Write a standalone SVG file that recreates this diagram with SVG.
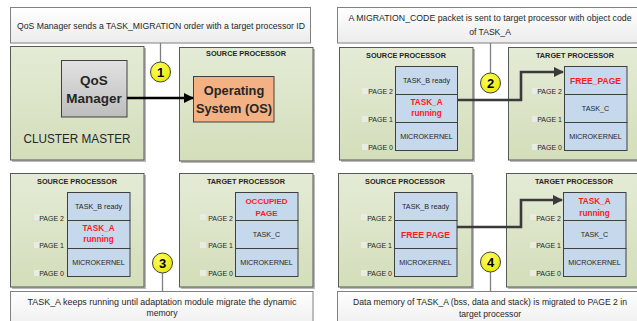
<svg xmlns="http://www.w3.org/2000/svg" width="637" height="321" viewBox="0 0 637 321">
<defs>
<linearGradient id="gPanel" x1="0" y1="0" x2="0" y2="1"><stop offset="0" stop-color="#E4EBD6"/><stop offset="1" stop-color="#D3DEBA"/></linearGradient>
<linearGradient id="gCall" x1="0" y1="0" x2="0" y2="1"><stop offset="0" stop-color="#FFFFFF"/><stop offset="1" stop-color="#ECECEC"/></linearGradient>
<linearGradient id="gQos" x1="0" y1="0" x2="0" y2="1"><stop offset="0" stop-color="#E2E2E2"/><stop offset="1" stop-color="#BDBDBD"/></linearGradient>
<radialGradient id="gCirc" cx="0.4" cy="0.35" r="0.7"><stop offset="0" stop-color="#FFFF66"/><stop offset="1" stop-color="#E8E800"/></radialGradient>
<marker id="ah" viewBox="0 0 10 10" refX="9" refY="5" markerWidth="4" markerHeight="4" orient="auto" markerUnits="strokeWidth"><path d="M0,0 L10,5 L0,10 z" fill="context-stroke"/></marker>
<marker id="ahK" viewBox="0 0 10 10" refX="9" refY="5" markerWidth="4" markerHeight="4" orient="auto" markerUnits="strokeWidth"><path d="M0,0 L10,5 L0,10 z" fill="#000"/></marker>
<marker id="ahG" viewBox="0 0 10 10" refX="9" refY="5" markerWidth="4" markerHeight="4" orient="auto" markerUnits="strokeWidth"><path d="M0,0 L10,5 L0,10 z" fill="#3A3A3A"/></marker>
</defs>
<style>
text{font-family:"Liberation Sans",Arial,sans-serif;fill:#262626}
.panel{fill:url(#gPanel);stroke:#595959;stroke-width:1}
.shadow{fill:#8C8C8C;opacity:0.6}
.call{fill:url(#gCall);stroke:#808080;stroke-width:1}
.hd{font-weight:bold;font-size:7.3px;text-anchor:middle}
.ct{font-size:8.6px;text-anchor:middle}
.cell{fill:#C6D8EC;stroke:#404040;stroke-width:1}
.st{font-size:7.2px;text-anchor:middle}
.red{font-weight:bold;fill:#FF1A1A;text-anchor:middle}
.pg{font-size:7px;text-anchor:end}
.tick{fill:#E9ECE2}
.circ{fill:url(#gCirc);stroke:#404040;stroke-width:1}
.num{font-weight:bold;font-size:13px;text-anchor:middle;fill:#000}
.stem{stroke:#808080;stroke-width:1.3;fill:none}
.arr{stroke:#3A3A3A;stroke-width:2.6;fill:none;marker-end:url(#ahG)}
</style>
<rect width="637" height="321" fill="#FFFFFF"/>

<!-- Panel 1 -->
<g id="callout1">
<rect class="call" x="10.5" y="7.5" width="300" height="35.5"/>
<text class="ct" x="161" y="29" textLength="288" lengthAdjust="spacingAndGlyphs">QoS Manager sends a TASK_MIGRATION order with a target processor ID</text>
</g>
<g id="cluster-master">
<rect class="shadow" x="12" y="48" width="134" height="114"/>
<rect class="panel" x="10.5" y="46.5" width="133.5" height="113.5"/>
<text x="77" y="143" font-size="12" text-anchor="middle" textLength="107" lengthAdjust="spacingAndGlyphs">CLUSTER MASTER</text>
</g>
<g id="qos-manager">
<rect x="61.5" y="60.5" width="65.5" height="56.5" fill="url(#gQos)" stroke="#404040"/>
<text x="94" y="85" font-size="13.5" font-weight="bold" text-anchor="middle">QoS</text>
<text x="94" y="103" font-size="13.5" font-weight="bold" text-anchor="middle">Manager</text>
</g>
<g id="source1">
<rect class="shadow" x="181" y="49" width="134" height="114"/>
<rect class="panel" x="179.5" y="47.5" width="133.5" height="113.5"/>
<text class="hd" x="246" y="56">SOURCE PROCESSOR</text>
</g>
<g id="os">
<rect x="193.5" y="76.5" width="80.5" height="45.5" fill="#F4B183" stroke="#404040"/>
<text x="234" y="95" font-size="12.8" font-weight="bold" text-anchor="middle">Operating</text>
<text x="234" y="113" font-size="12.8" font-weight="bold" text-anchor="middle">System (OS)</text>
</g>

<!-- Panel 2 -->
<g id="callout2">
<rect class="call" x="337.5" y="7.5" width="305" height="35.5"/>
<text class="ct" x="490" y="21" textLength="283" lengthAdjust="spacingAndGlyphs">A MIGRATION_CODE packet is sent to target processor with object code</text>
<text class="ct" x="490" y="35">of TASK_A</text>
</g>
<g id="source2">
<rect class="shadow" x="341" y="49" width="134" height="113"/>
<rect class="panel" x="339.5" y="47.5" width="133.5" height="112.5"/>
<text class="hd" x="406" y="58">SOURCE PROCESSOR</text>
<rect class="tick" x="362" y="88" width="6" height="6"/><rect class="tick" x="362" y="116" width="6" height="6"/><rect class="tick" x="362" y="144" width="6" height="6"/>
<text class="pg" x="393" y="94">PAGE 2</text><text class="pg" x="393" y="122">PAGE 1</text><text class="pg" x="393" y="150">PAGE 0</text>
<rect class="cell" x="395.5" y="66.5" width="62" height="28"/>
<rect class="cell" x="395.5" y="94.5" width="62" height="28"/>
<rect class="cell" x="395.5" y="122.5" width="62" height="28"/>
<text class="st" x="426.5" y="83">TASK_B ready</text>
<text class="red" x="426.5" y="105" font-size="8.2">TASK_A</text>
<text class="red" x="426.5" y="116" font-size="8.2">running</text>
<text class="st" x="426.5" y="139">MICROKERNEL</text>
</g>
<g id="target2">
<rect class="shadow" x="510" y="49" width="134" height="113"/>
<rect class="panel" x="508.5" y="47.5" width="133.5" height="112.5"/>
<text class="hd" x="575" y="58">TARGET PROCESSOR</text>
<rect class="tick" x="532" y="88" width="6" height="6"/><rect class="tick" x="532" y="116" width="6" height="6"/><rect class="tick" x="532" y="144" width="6" height="6"/>
<text class="pg" x="562" y="94">PAGE 2</text><text class="pg" x="562" y="122">PAGE 1</text><text class="pg" x="562" y="150">PAGE 0</text>
<rect class="cell" x="564.5" y="66.5" width="62.5" height="28"/>
<rect class="cell" x="564.5" y="94.5" width="62.5" height="28"/>
<rect class="cell" x="564.5" y="122.5" width="62.5" height="28"/>
<text class="red" x="595.5" y="84" font-size="8.5">FREE_PAGE</text>
<text class="st" x="595.5" y="111">TASK_C</text>
<text class="st" x="595.5" y="139">MICROKERNEL</text>
</g>

<!-- Panel 3 -->
<g id="source3">
<rect class="shadow" x="12" y="175" width="134" height="114"/>
<rect class="panel" x="10.5" y="173.5" width="133.5" height="113.5"/>
<text class="hd" x="77" y="184">SOURCE PROCESSOR</text>
<rect class="tick" x="34" y="214" width="6" height="6"/><rect class="tick" x="34" y="242" width="6" height="6"/><rect class="tick" x="34" y="270" width="6" height="6"/>
<text class="pg" x="64" y="221">PAGE 2</text><text class="pg" x="64" y="248">PAGE 1</text><text class="pg" x="64" y="276">PAGE 0</text>
<rect class="cell" x="67.5" y="192.5" width="62.5" height="28"/>
<rect class="cell" x="67.5" y="220.5" width="62.5" height="28"/>
<rect class="cell" x="67.5" y="248.5" width="62.5" height="28"/>
<text class="st" x="98.5" y="209">TASK_B ready</text>
<text class="red" x="98.5" y="231" font-size="8.2">TASK_A</text>
<text class="red" x="98.5" y="242" font-size="8.2">running</text>
<text class="st" x="98.5" y="265">MICROKERNEL</text>
</g>
<g id="target3">
<rect class="shadow" x="181" y="175" width="134" height="114"/>
<rect class="panel" x="179.5" y="173.5" width="133.5" height="113.5"/>
<text class="hd" x="246" y="184">TARGET PROCESSOR</text>
<rect class="tick" x="200" y="214" width="6" height="6"/><rect class="tick" x="200" y="242" width="6" height="6"/><rect class="tick" x="200" y="270" width="6" height="6"/>
<text class="pg" x="233" y="221">PAGE 2</text><text class="pg" x="233" y="248">PAGE 1</text><text class="pg" x="233" y="276">PAGE 0</text>
<rect class="cell" x="235.5" y="192.5" width="62.5" height="28"/>
<rect class="cell" x="235.5" y="220.5" width="62.5" height="28"/>
<rect class="cell" x="235.5" y="248.5" width="62.5" height="28"/>
<text class="red" x="266.5" y="204" font-size="8">OCCUPIED</text>
<text class="red" x="266.5" y="215.5" font-size="8">PAGE</text>
<text class="st" x="266.5" y="237">TASK_C</text>
<text class="st" x="266.5" y="265">MICROKERNEL</text>
</g>
<g id="callout3">
<rect class="call" x="10.5" y="291.5" width="302.5" height="40"/>
<text class="ct" x="162" y="305" textLength="269" lengthAdjust="spacingAndGlyphs">TASK_A keeps running until adaptation module migrate the dynamic</text>
<text class="ct" x="162" y="316">memory</text>
</g>

<!-- Panel 4 -->
<g id="source4">
<rect class="shadow" x="340" y="175" width="134" height="114"/>
<rect class="panel" x="338.5" y="173.5" width="133.5" height="113.5"/>
<text class="hd" x="405" y="184">SOURCE PROCESSOR</text>
<rect class="tick" x="361" y="214" width="6" height="6"/><rect class="tick" x="361" y="242" width="6" height="6"/><rect class="tick" x="361" y="270" width="6" height="6"/>
<text class="pg" x="392" y="221">PAGE 2</text><text class="pg" x="392" y="248">PAGE 1</text><text class="pg" x="392" y="276">PAGE 0</text>
<rect class="cell" x="394.5" y="192.5" width="62.5" height="28"/>
<rect class="cell" x="394.5" y="220.5" width="62.5" height="28"/>
<rect class="cell" x="394.5" y="248.5" width="62.5" height="28"/>
<text class="st" x="425.5" y="209">TASK_B ready</text>
<text class="red" x="425.5" y="238" font-size="8.6">FREE PAGE</text>
<text class="st" x="425.5" y="265">MICROKERNEL</text>
</g>
<g id="target4">
<rect class="shadow" x="508" y="175" width="134" height="114"/>
<rect class="panel" x="506.5" y="173.5" width="133.5" height="113.5"/>
<text class="hd" x="574" y="184">TARGET PROCESSOR</text>
<rect class="tick" x="530" y="214" width="6" height="6"/><rect class="tick" x="530" y="242" width="6" height="6"/><rect class="tick" x="530" y="270" width="6" height="6"/>
<text class="pg" x="561" y="221">PAGE 2</text><text class="pg" x="561" y="248">PAGE 1</text><text class="pg" x="561" y="276">PAGE 0</text>
<rect class="cell" x="563.5" y="192.5" width="62.5" height="28"/>
<rect class="cell" x="563.5" y="220.5" width="62.5" height="28"/>
<rect class="cell" x="563.5" y="248.5" width="62.5" height="28"/>
<text class="red" x="594.5" y="204" font-size="8.2">TASK_A</text>
<text class="red" x="594.5" y="215.5" font-size="8.2">running</text>
<text class="st" x="594.5" y="237">TASK_C</text>
<text class="st" x="594.5" y="265">MICROKERNEL</text>
</g>
<g id="callout4">
<rect class="call" x="337.5" y="291.5" width="305" height="40"/>
<text class="ct" x="490" y="305" textLength="274" lengthAdjust="spacingAndGlyphs">Data memory of TASK_A (bss, data and stack) is migrated to PAGE 2 in</text>
<text class="ct" x="490" y="317">target processor</text>
</g>

<!-- Connectors -->
<g id="connectors">
<path class="stem" d="M160.5,43 V62"/>
<path class="stem" d="M490.5,43 V73"/>
<path class="stem" d="M162.5,273 V291"/>
<path class="stem" d="M490.5,272 V291"/>
<path d="M127,98 H193" stroke="#000" stroke-width="2.6" fill="none" marker-end="url(#ahK)"/>
<path class="arr" d="M458,100 H521 V72 H563"/>
<path class="arr" d="M457,227 H521 V200 H562"/>
</g>

<!-- Step markers -->
<g id="step1"><circle class="circ" cx="160.5" cy="72" r="10"/><text class="num" x="160.5" y="76.5">1</text></g>
<g id="step2"><circle class="circ" cx="490.5" cy="83" r="10"/><text class="num" x="490.5" y="87.5">2</text></g>
<g id="step3"><circle class="circ" cx="162.5" cy="263" r="10"/><text class="num" x="162.5" y="267.5">3</text></g>
<g id="step4"><circle class="circ" cx="490.5" cy="262" r="10"/><text class="num" x="490.5" y="266.5">4</text></g>
</svg>
